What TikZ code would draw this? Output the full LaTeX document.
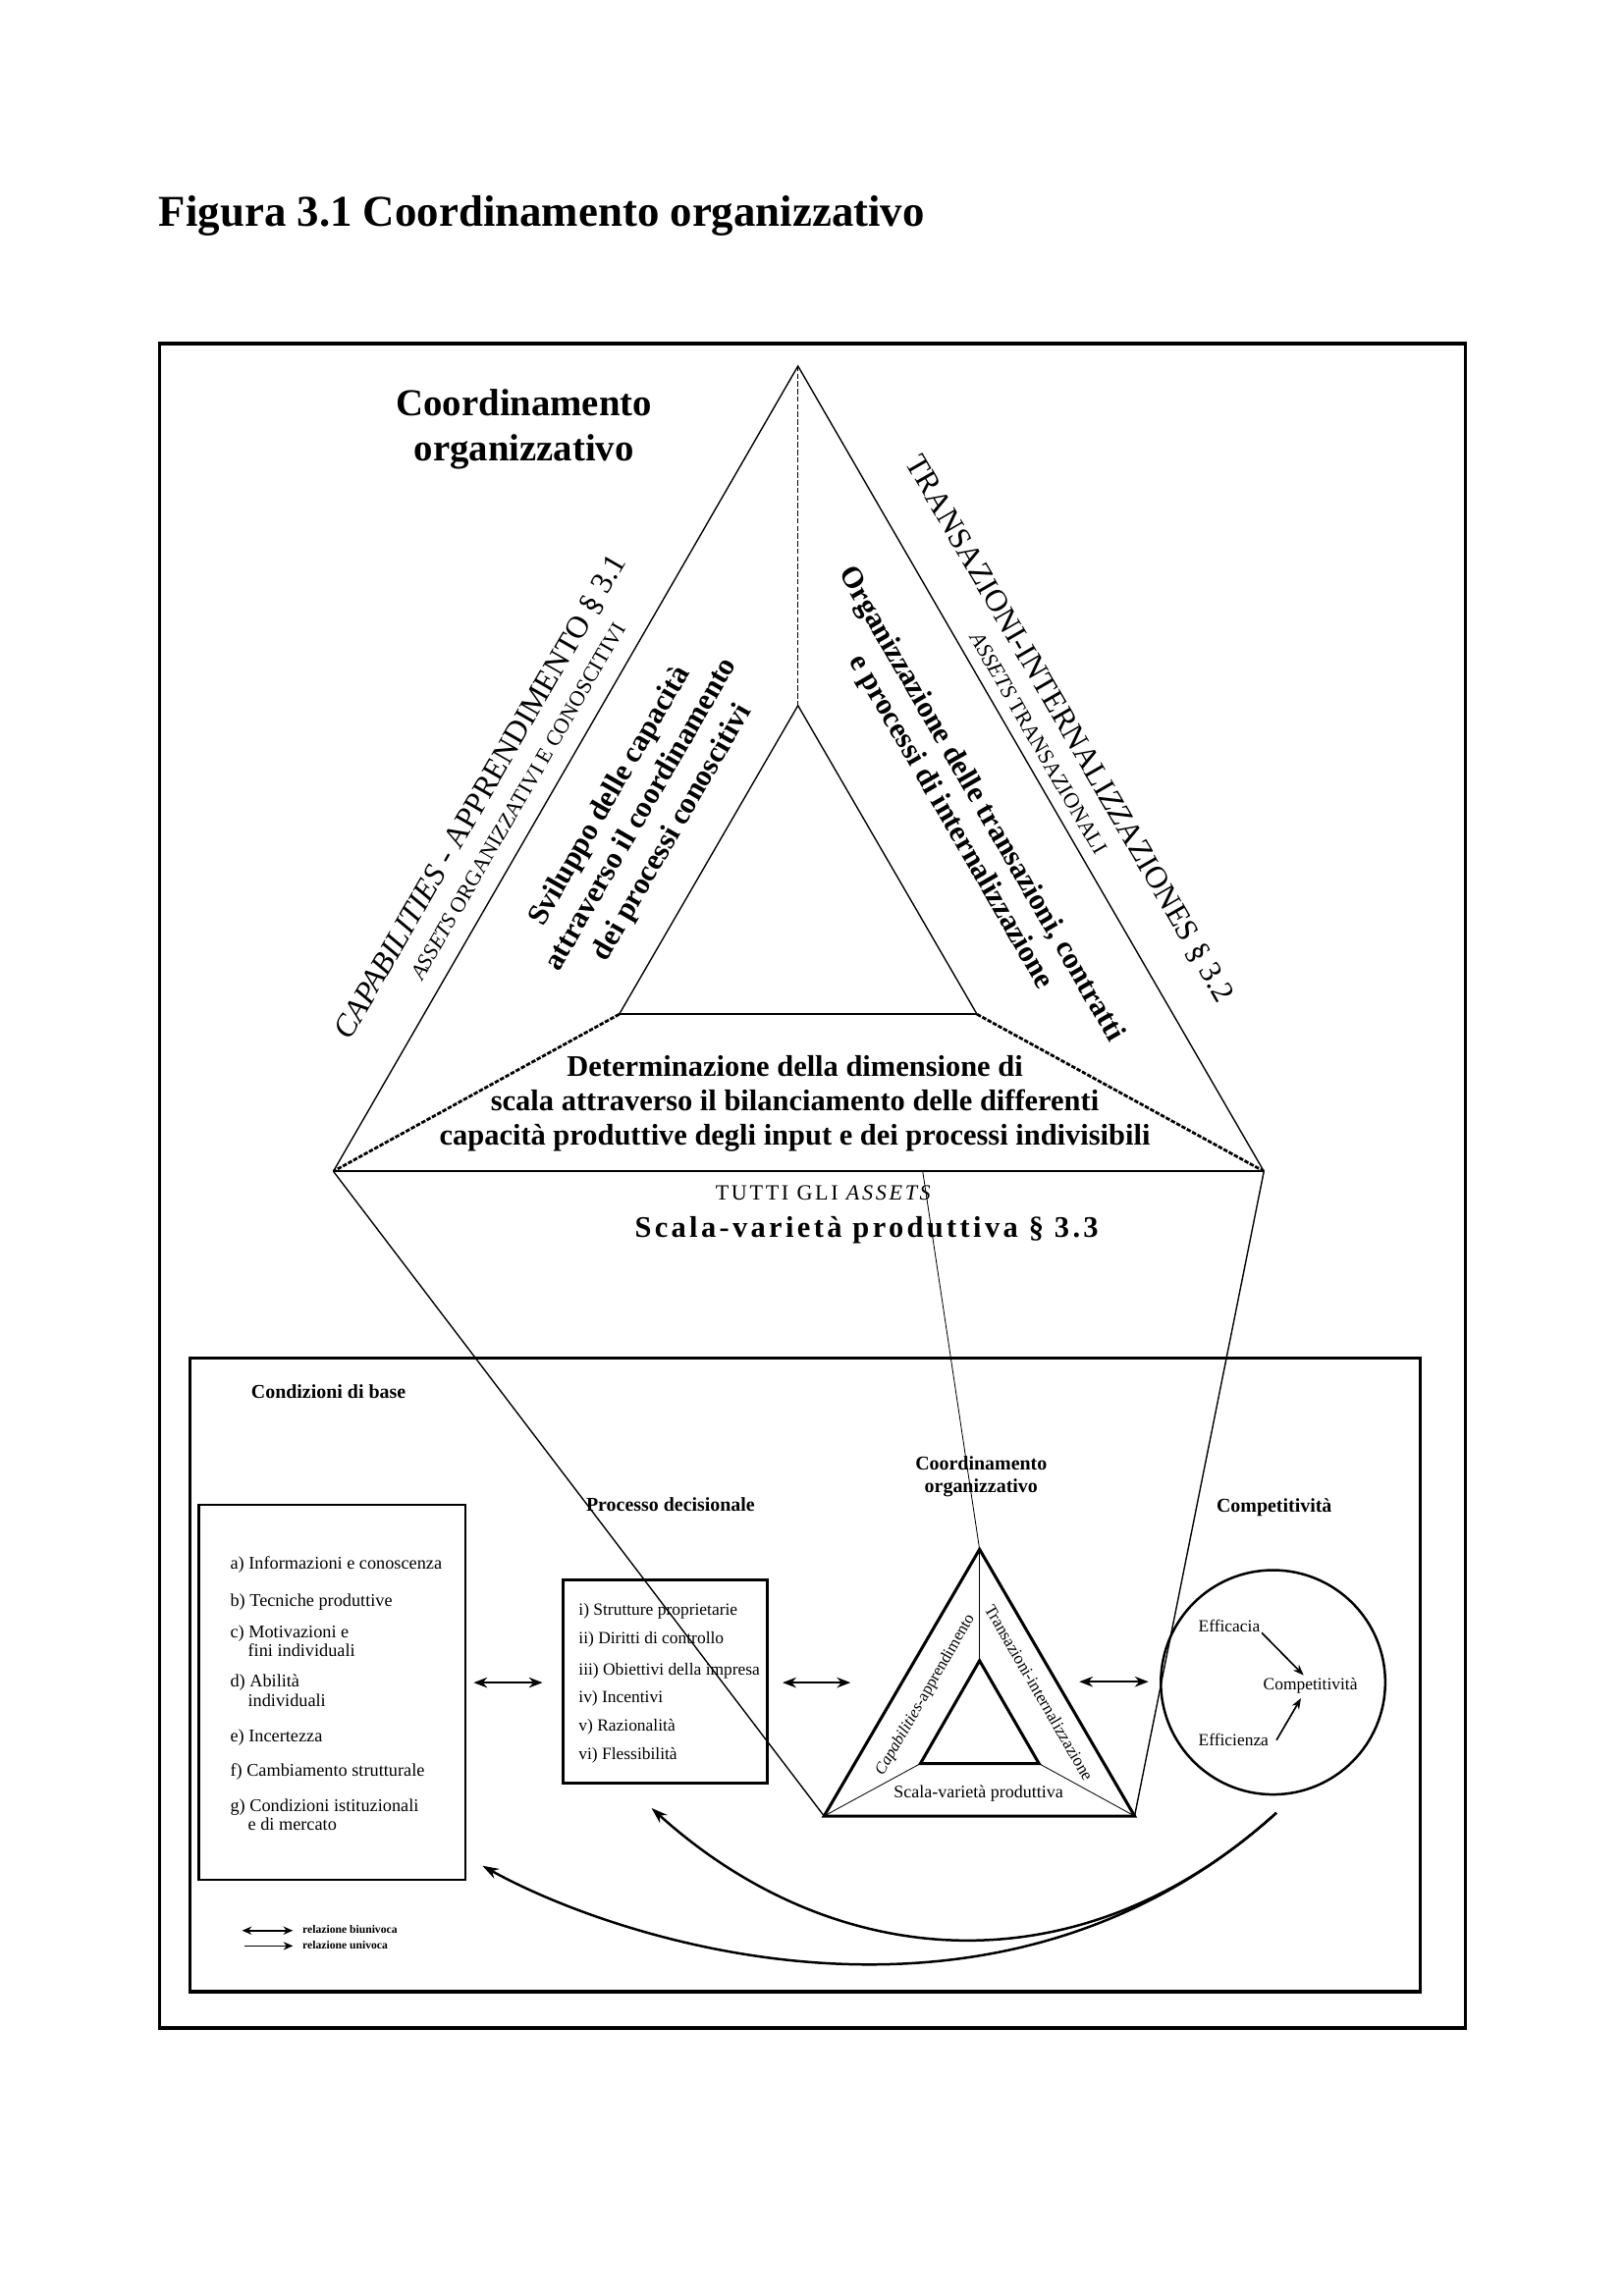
\documentclass[tikz,border=0pt]{standalone}
\usepackage{fontspec}
\setmainfont{Liberation Serif}
\usetikzlibrary{arrows.meta}
\begin{document}
\begin{tikzpicture}[x=0.190909mm,y=-0.190909mm,
  lbl/.style={inner sep=0pt, outer sep=0pt},
  frameline/.style={line width=1.2pt},
  edgeline/.style={line width=0.5pt},
  baseline/.style={line width=0.85pt},
  hairline/.style={line width=0.3pt},
  smalltri/.style={line width=1.1pt, line join=miter},
  dashv/.style={line width=0.45pt, dash pattern=on 2pt off 0.8pt},
  dashheavy/.style={line width=1pt, dash pattern=on 1.6pt off 0.6pt},
  dblarrow/.style={line width=0.8pt, {Stealth[length=5pt,width=3.8pt]}-{Stealth[length=5pt,width=3.8pt]}},
  onearrow/.style={line width=0.6pt, -{Stealth[length=4pt,width=3pt]}},
  curvearrow/.style={line width=0.9pt, -{Stealth[length=6pt,width=4pt]}},
  itemtxt/.style={lbl, anchor=base west, font=\fontsize{6.6}{7.5}\selectfont},
  itemtxtb/.style={lbl, anchor=base west, font=\fontsize{6.3}{7.5}\selectfont},
  headtxt/.style={lbl, anchor=base, font=\bfseries\fontsize{7.2}{8.5}\selectfont},
  circtxt/.style={lbl, anchor=base west, font=\fontsize{6.3}{7.5}\selectfont}
]
\useasboundingbox (0,0) rectangle (1100,1555.6);

% title
\node[lbl, anchor=base west, font=\bfseries\fontsize{16.2}{19}\selectfont] (title) at (107.7,153) {Figura 3.1 Coordinamento organizzativo};

% frames
\draw[frameline] (108,232.8) rectangle (992.5,1374);
\draw[frameline] (128.6,920) rectangle (962,1349.5);

% big triangle
\coordinate (A) at (540.5,248);
\coordinate (L) at (225.8,793.6);
\coordinate (R) at (856.1,793.6);
\coordinate (IA) at (540.5,478);
\coordinate (IL) at (419.4,687.2);
\coordinate (IR) at (661.8,687.2);
\coordinate (T) at (625,793.6);
\draw[edgeline] (L) -- (A) -- (R);
\draw[baseline] (L) -- (R);
\draw[edgeline] (IL) -- (IA) -- (IR);
\draw[baseline] (IL) -- (IR);
\draw[dashv] (A) -- (IA);
\draw[dashheavy] (IL) -- (L);
\draw[dashheavy] (IR) -- (R);

% texts of big triangle
\node[lbl, anchor=base, font=\bfseries\fontsize{14}{17}\selectfont] (co1) at (355,281.5) {Coordinamento};
\node[lbl, anchor=base, font=\bfseries\fontsize{14}{17}\selectfont] (co2) at (355,312) {organizzativo};

\node[lbl, rotate=60, font=\fontsize{11.5}{13}\selectfont] (capab) at (326,540) {\textit{CAPABILITIES} - APPRENDIMENTO § 3.1};
\node[lbl, rotate=60, font=\fontsize{8}{9}\selectfont] (assets1) at (351,543) {\textit{ASSETS} ORGANIZZATIVI E CONOSCITIVI};
\node[lbl, rotate=60, align=center, font=\bfseries\fontsize{11}{13.3}\selectfont] (svil) at (434.6,552) {Sviluppo delle capacità\\attraverso il coordinamento\\dei processi conoscitivi};

\node[lbl, rotate=-60, font=\fontsize{11.5}{13}\selectfont] (trans) at (724,494) {TRANSAZIONI-INTERNALI\textit{ZZ}AZIONES § 3.2};
\node[lbl, rotate=-60, font=\fontsize{8}{9}\selectfont] (assets2) at (703.6,503.7) {\textit{ASSETS} TRANSAZIONALI};
\node[lbl, rotate=-60, align=center, font=\bfseries\fontsize{11}{12.8}\selectfont] (org) at (654,551) {Organizzazione delle transazioni, contratti\\e processi di internalizzazione};

\node[lbl, anchor=base, font=\bfseries\fontsize{11}{13}\selectfont] (det1) at (538.4,729.4) {Determinazione della dimensione di};
\node[lbl, anchor=base, font=\bfseries\fontsize{11}{13}\selectfont] (det2) at (538.4,752.6) {scala attraverso il bilanciamento delle differenti};
\node[lbl, anchor=base, font=\bfseries\fontsize{11}{13}\selectfont] (det3) at (538.4,775.9) {capacità produttive degli input e dei processi indivisibili};

\node[lbl, anchor=base, font=\fontsize{8}{9}\selectfont\addfontfeatures{LetterSpace=12}] (tutti) at (558.4,813) {TUTTI GLI \textit{ASSETS}};
\node[lbl, anchor=base, font=\bfseries\fontsize{11}{13}\selectfont\addfontfeatures{LetterSpace=11}] (scala) at (587,838) {Scala-varietà produttiva § 3.3};

% small triangle
\coordinate (a) at (663.5,1049.7);
\coordinate (b) at (558.2,1230.4);
\coordinate (c) at (768.5,1230.4);
\coordinate (ia) at (663.5,1125.1);
\coordinate (ib) at (623.4,1194.9);
\coordinate (ic) at (703.8,1194.9);
\draw[smalltri] (a) -- (b) -- (c) -- cycle;
\draw[smalltri] (ia) -- (ib) -- (ic) -- cycle;
\draw[hairline] (a) -- (ia);
\draw[hairline] (ib) -- (b);
\draw[hairline] (ic) -- (c);
\node[lbl, rotate=60, font=\fontsize{6}{7}\selectfont] (capsm) at (626.8,1148.4) {\textit{Capabilities}-apprendimento};
\node[lbl, rotate=-60, font=\fontsize{6.2}{7}\selectfont] (transm) at (703.9,1146.7) {Transazioni-internalizzazione};
\node[lbl, font=\fontsize{6.5}{7.5}\selectfont] (scalsm) at (662.8,1214.9) {Scala-varietà produttiva};

% projection lines
\draw[edgeline] (L) -- (b);
\draw[edgeline] (R) -- (c);
\draw[hairline] (T) -- (a);

% headings lower
\node[headtxt] (hcond) at (222.5,947.6) {Condizioni di base};
\node[headtxt] (hproc) at (454.2,1024) {Processo decisionale};
\node[headtxt] (hcoo1) at (664.6,995.9) {Coordinamento};
\node[headtxt] (hcoo2) at (664.6,1011) {organizzativo};
\node[headtxt] (hcomp) at (863.1,1024.5) {Competitività};

% box 1
\coordinate (b1nw) at (134.7,1019.3);
\coordinate (b1se) at (315.2,1273.5);
\draw[line width=0.8pt] (b1nw) rectangle (b1se);
\node[itemtxt] (ia1) at (156,1063.3) {a) Informazioni e conoscenza};
\node[itemtxt] (ib1) at (156,1088.1) {b) Tecniche produttive};
\node[itemtxt] (ic1) at (156,1109.6) {c) Motivazioni e};
\node[itemtxt] (ic2) at (168,1122) {fini individuali};
\node[itemtxt] (id1) at (156,1142.7) {d) Abilità};
\node[itemtxt] (id2) at (168,1156.5) {individuali};
\node[itemtxt] (ie1) at (156,1180) {e) Incertezza};
\node[itemtxt] (if1) at (156,1203.5) {f) Cambiamento strutturale};
\node[itemtxt] (ig1) at (156,1227.4) {g) Condizioni istituzionali};
\node[itemtxt] (ig2) at (168,1240.1) {e di mercato};

% box 2
\coordinate (b2nw) at (381.7,1070.3);
\coordinate (b2se) at (519.8,1208.2);
\draw[line width=1.1pt] (b2nw) rectangle (b2se);
\node[itemtxtb] (ii1) at (392,1094.4) {i) Strutture proprietarie};
\node[itemtxtb] (ii2) at (392,1113.7) {ii) Diritti di controllo};
\node[itemtxtb] (ii3) at (392,1135) {iii) Obiettivi della impresa};
\node[itemtxtb] (ii4) at (392,1153.8) {iv) Incentivi};
\node[itemtxtb] (ii5) at (392,1173) {v) Razionalità};
\node[itemtxtb] (ii6) at (392,1192.4) {vi) Flessibilità};

% double arrows
\coordinate (d1a) at (320.8,1140);
\coordinate (d1b) at (367.5,1140);
\coordinate (d2a) at (530.1,1140);
\coordinate (d2b) at (576.1,1140);
\coordinate (d3a) at (731,1139.4);
\coordinate (d3b) at (777.9,1139.4);
\draw[dblarrow] (d1a) -- (d1b);
\draw[dblarrow] (d2a) -- (d2b);
\draw[dblarrow] (d3a) -- (d3b);

% circle
\coordinate (circ) at (862.3,1139.8);
\draw[line width=0.9pt] (circ) circle [radius=76];
\node[circtxt] (effic) at (811.8,1105.8) {Efficacia};
\node[circtxt] (compc) at (855.7,1145) {Competitività};
\node[circtxt] (effie) at (811.8,1182.7) {Efficienza};
\coordinate (e1a) at (854.6,1106.2);
\coordinate (e1b) at (883,1135);
\coordinate (e2a) at (864.6,1179);
\coordinate (e2b) at (881.2,1150.6);
\draw[onearrow] (e1a) -- (e1b);
\draw[onearrow] (e2a) -- (e2b);

% feedback curves
\coordinate (cs) at (864.6,1228.2);
\coordinate (ce1) at (441.3,1225);
\coordinate (ce2) at (326.8,1264.1);
\draw[curvearrow] (cs) .. controls (727.7,1352.2) and (561.9,1334.2) .. (ce1);
\draw[curvearrow] (cs) .. controls (674.5,1400.3) and (417.8,1314.8) .. (ce2);

% legend
\coordinate (lg1a) at (164,1308);
\coordinate (lg1b) at (198.4,1308);
\coordinate (lg2a) at (165.8,1318.4);
\coordinate (lg2b) at (198.4,1318.4);
\draw[line width=0.7pt, {Stealth[length=3.5pt,width=3pt]}-{Stealth[length=3.5pt,width=3pt]}] (lg1a) -- (lg1b);
\draw[line width=0.3pt, -{Stealth[length=3.5pt,width=3pt]}] (lg2a) -- (lg2b);
\node[lbl, anchor=base west, font=\bfseries\fontsize{4.2}{5}\selectfont] (lgt1) at (205,1309.8) {relazione biunivoca};
\node[lbl, anchor=base west, font=\bfseries\fontsize{4.2}{5}\selectfont] (lgt2) at (205,1320.2) {relazione univoca};
\end{tikzpicture}
\end{document}
